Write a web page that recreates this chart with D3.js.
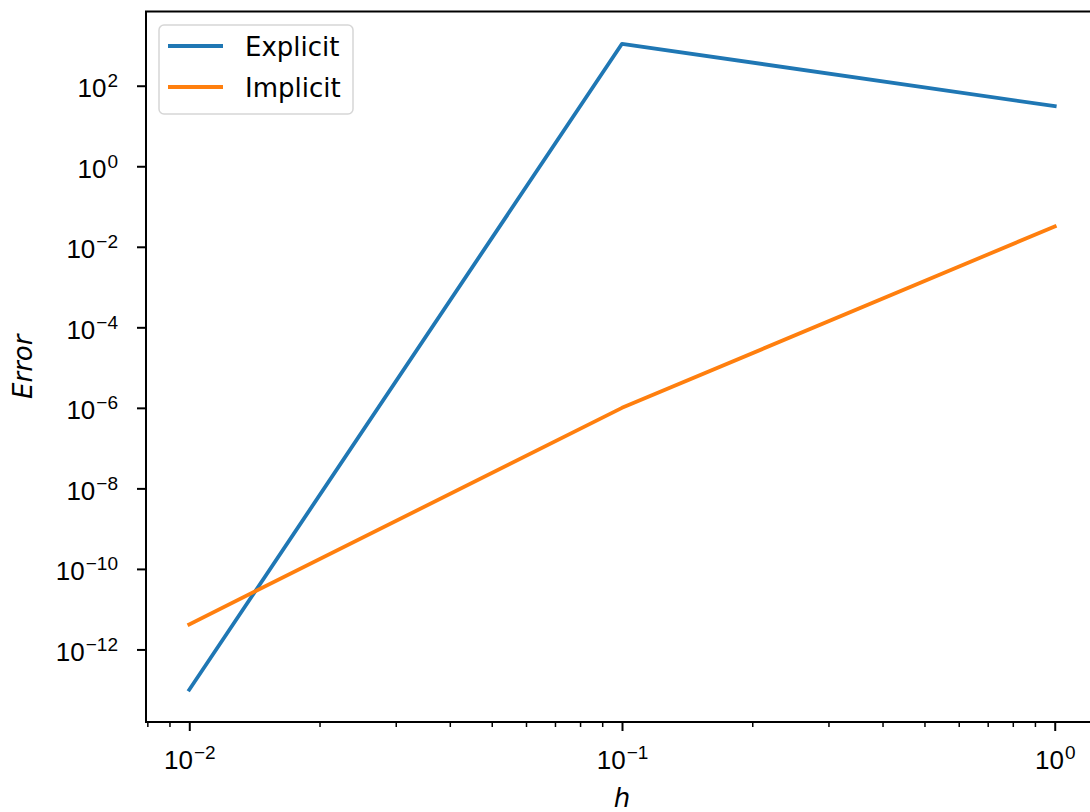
<!DOCTYPE html>
<html>
<head>
<meta charset="utf-8">
<script src="https://cdn.jsdelivr.net/npm/d3@7"></script>
<style>
  body { margin: 0; background: #fff; }
  svg { display: block; font-family: "DejaVu Sans", sans-serif; }
</style>
</head>
<body>
<div id="chart"></div>
<script>
// step sizes and errors
const stepSizes = [0.01, 0.1, 1];
const explicitErrors = [1e-13, 1.1e3, 31];
const implicitErrors = [4.2e-12, 1e-6, 3.2e-2];
const seriesNames = ['Explicit', 'Implicit'];
const seriesColors = ['#1f77b4', '#ff7f0e'];

const xTickExponents = [-2, -1, 0];
const yTickExponents = [-12, -10, -8, -6, -4, -2, 0, 2];

const width = 1090;
const height = 812;
const plot = { left: 146, right: 1098, top: 11.5, bottom: 722 };
const fontSize = 26;

const svg = d3.select('#chart')
  .append('svg')
  .attr('width', width)
  .attr('height', height);

// matplotlib style 5% margins in log space
function logDomain(values) {
  const lo = Math.log10(d3.min(values));
  const hi = Math.log10(d3.max(values));
  const pad = (hi - lo) * 0.05;
  return [Math.pow(10, lo - pad), Math.pow(10, hi + pad)];
}

const xScale = d3.scaleLog()
  .domain(logDomain(stepSizes))
  .range([plot.left, plot.right]);

const yScale = d3.scaleLog()
  .domain(logDomain(explicitErrors.concat(implicitErrors)))
  .range([plot.bottom, plot.top]);

// minor ticks on x
const minorX = [];
[-3, -2, -1, 0].forEach(e => {
  for (let k = 2; k <= 9; k++) {
    const v = k * Math.pow(10, e);
    const [a, b] = xScale.domain();
    if (v >= a && v <= b) minorX.push(v);
  }
});

svg.append('g')
  .attr('transform', `translate(0,${plot.bottom})`)
  .call(d3.axisBottom(xScale).tickValues(minorX).tickSize(5).tickFormat(''))
  .call(g => g.select('.domain').remove())
  .call(g => g.selectAll('.tick line').attr('stroke-width', 1.5));

function powerLabel(sel, exps) {
  sel.each(function (d, i) {
    const t = d3.select(this).text(null);
    t.append('tspan').text('10');
    const e = exps[i];
    t.append('tspan')
      .attr('font-size', 19)
      .attr('dy', -10)
      .attr('dx', 1)
      .text(e < 0 ? '\u2212' + Math.abs(e) : String(e));
  });
}

const xAxis = svg.append('g')
  .attr('transform', `translate(0,${plot.bottom})`)
  .call(d3.axisBottom(xScale)
    .tickValues(xTickExponents.map(e => Math.pow(10, e)))
    .tickSize(9)
    .tickPadding(9)
    .tickFormat(''));
xAxis.select('.domain').remove();
xAxis.selectAll('.tick line').attr('stroke-width', 2);
xAxis.selectAll('.tick text')
  .attr('y', 47)
  .attr('dy', 0)
  .attr('font-size', fontSize)
  .attr('fill', '#000')
  .call(powerLabel, xTickExponents);

const yAxis = svg.append('g')
  .attr('transform', `translate(${plot.left},0)`)
  .call(d3.axisLeft(yScale)
    .tickValues(yTickExponents.map(e => Math.pow(10, e)))
    .tickSize(9)
    .tickPadding(19)
    .tickFormat(''));
yAxis.select('.domain').remove();
yAxis.selectAll('.tick line').attr('stroke-width', 2);
yAxis.selectAll('.tick text')
  .attr('dy', 11)
  .attr('font-size', fontSize)
  .attr('fill', '#000')
  .call(powerLabel, yTickExponents);

// axes frame
svg.append('rect')
  .attr('x', plot.left)
  .attr('y', plot.top)
  .attr('width', plot.right - plot.left)
  .attr('height', plot.bottom - plot.top)
  .attr('fill', 'none')
  .attr('stroke', '#000')
  .attr('stroke-width', 2);

const line = d3.line()
  .x((d, i) => xScale(stepSizes[i]))
  .y(d => yScale(d));

[explicitErrors, implicitErrors].forEach((vals, i) => {
  svg.append('path')
    .datum(vals)
    .attr('d', line)
    .attr('fill', 'none')
    .attr('stroke', seriesColors[i])
    .attr('stroke-width', 3.8)
    .attr('stroke-linejoin', 'round')
    .attr('stroke-linecap', 'square');
});

// axis labels
svg.append('text')
  .attr('x', (plot.left + plot.right) / 2)
  .attr('y', 807)
  .attr('text-anchor', 'middle')
  .attr('font-size', fontSize)
  .attr('font-style', 'italic')
  .text('h');

svg.append('text')
  .attr('transform', `translate(32,${(plot.top + plot.bottom) / 2}) rotate(-90)`)
  .attr('text-anchor', 'middle')
  .attr('font-size', fontSize)
  .attr('font-style', 'italic')
  .text('Error');

// legend
const legend = svg.append('g').attr('transform', 'translate(159,25)');

legend.append('rect')
  .attr('width', 194)
  .attr('height', 89)
  .attr('rx', 5)
  .attr('fill', 'rgba(255,255,255,0.8)')
  .attr('stroke', '#d6d6d6')
  .attr('stroke-width', 1.5);

seriesNames.forEach((name, i) => {
  const y = 21 + i * 41;
  legend.append('line')
    .attr('x1', 9)
    .attr('x2', 64)
    .attr('y1', y)
    .attr('y2', y)
    .attr('stroke', seriesColors[i])
    .attr('stroke-width', 3.8);
  legend.append('text')
    .attr('x', 86)
    .attr('y', y + 9.5)
    .attr('font-size', fontSize)
    .attr('fill', '#000')
    .text(name);
});
</script>
</body>
</html>
